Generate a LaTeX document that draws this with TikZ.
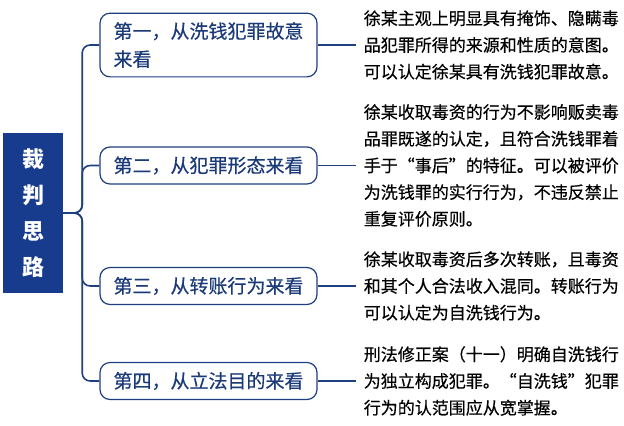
\documentclass[tikz,border=0pt]{standalone}
\usepackage{fontspec}
\newfontfamily\cjk{Noto Sans CJK SC}
\newfontfamily\cjkmid{Noto Sans CJK SC}[FakeBold=0.4]
\usetikzlibrary{positioning}
\definecolor{navy}{HTML}{173C8E}
\definecolor{edge}{HTML}{1E3F80}
\definecolor{label}{HTML}{1B3A78}
\tikzstyle{root} = [rectangle, minimum width=60bp, minimum height=160bp, fill=navy, text=white, align=center, font=\cjk\bfseries\fontsize{22bp}{36bp}\selectfont]
\tikzstyle{branch} = [rectangle, rounded corners=10bp, minimum width=217bp, minimum height=37bp, inner ysep=9bp, draw=edge, line width=1.2bp, fill=white, text=label, align=left, font=\cjkmid\fontsize{19bp}{28bp}\selectfont]
\tikzstyle{desc} = [rectangle, inner sep=8bp, align=left, text=black, font=\cjkmid\fontsize{17bp}{26.7bp}\selectfont]
\tikzstyle{link} = [draw=edge, line width=1.6bp]
\tikzstyle{fork} = [link, rounded corners=8bp]

\begin{document}
\begin{tikzpicture}[x=1bp, y=-1bp]
\useasboundingbox (0,0) rectangle (624,425);
\node (root) [root] at (33,213) {裁\\判\\思\\路};

\node (b1) [branch] at (208.5,45) {第一，从洗钱犯罪故意\\来看};
\node (b2) [branch] at (208.5,165.5) {第二，从犯罪形态来看};
\node (b3) [branch] at (208.5,286) {第三，从转账行为来看};
\node (b4) [branch] at (208.5,381) {第四，从立法目的来看};

\node (t1) [desc, right=38bp of b1] {徐某主观上明显具有掩饰、隐瞒毒\\品犯罪所得的来源和性质的意图。\\可以认定徐某具有洗钱犯罪故意。};
\node (t2) [desc, right=38bp of b2] {徐某收取毒资的行为不影响贩卖毒\\品罪既遂的认定，且符合洗钱罪着\\手于“事后”的特征。可以被评价\\为洗钱罪的实行行为，不违反禁止\\重复评价原则。};
\node (t3) [desc, right=38bp of b3] {徐某收取毒资后多次转账，且毒资\\和其个人合法收入混同。转账行为\\可以认定为自洗钱行为。};
\node (t4) [desc, right=38bp of b4] {刑法修正案（十一）明确自洗钱行\\为独立构成犯罪。“自洗钱”犯罪\\行为的认范围应从宽掌握。};

\draw [fork] (root.east) -- ++(19,0) |- (b1.west);
\draw [fork] (root.east) -- ++(19,0) |- (b2.west);
\draw [fork] (root.east) -- ++(19,0) |- (b3.west);
\draw [fork] (root.east) -- ++(19,0) |- (b4.west);

\draw [link] (b1) -- (t1);
\draw [link] (b2) -- (t2);
\draw [link] (b3) -- (t3);
\draw [link] (b4) -- (t4);

\end{tikzpicture}
\end{document}
